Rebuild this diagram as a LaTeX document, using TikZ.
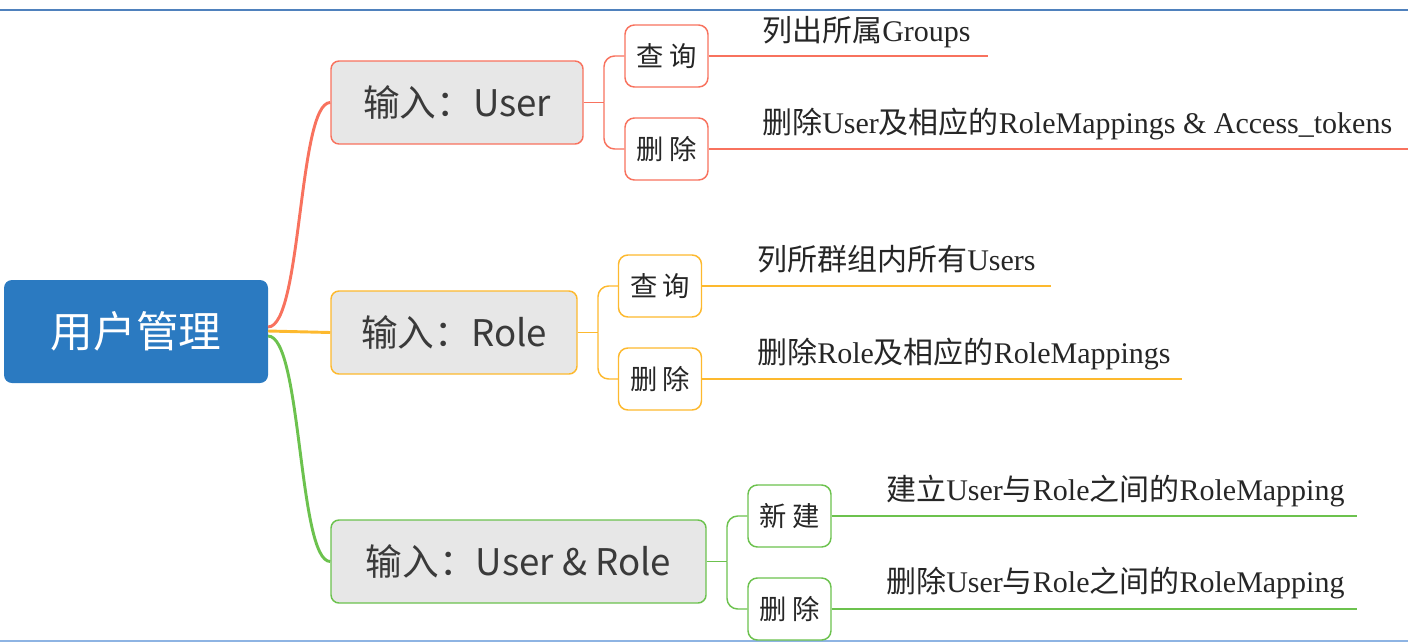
\documentclass[tikz,border=0pt]{standalone}
\usepackage{fontspec}
\setmainfont{Liberation Serif}
\newfontfamily\cjk{Noto Sans CJK SC}
\newcommand{\zhs}[1]{{\cjk #1}}
\newcommand{\twozh}[2]{#1\hspace{4pt}#2}
\definecolor{cred}{HTML}{F8725E}
\definecolor{corg}{HTML}{FDB92E}
\definecolor{cgrn}{HTML}{6CC24E}
\definecolor{cblue}{HTML}{2B7AC1}
\definecolor{cfill}{HTML}{E7E7E7}
\definecolor{ctxt}{HTML}{3A3A3A}
\definecolor{cline}{HTML}{4F81BD}
\definecolor{cline2}{HTML}{8EB4E3}
\tikzset{
  rootbox/.style={draw=none, fill=cblue, rounded corners=6pt, minimum width=198pt, minimum height=77.25pt, text=white, font=\cjk\fontsize{32}{36}\selectfont, inner sep=0pt},
  branchbox/.style={draw=#1, line width=1.1pt, fill=cfill, rounded corners=6pt, minimum height=62.25pt, text=ctxt, font=\cjk\fontsize{27.5}{30}\selectfont, inner sep=0pt},
  leafbox/.style={draw=#1, line width=1.1pt, fill=white, rounded corners=7pt, minimum width=62.25pt, minimum height=46.5pt, text=black!85, font=\cjk\fontsize{20.5}{22}\selectfont, inner sep=0pt},
  leaftext/.style={anchor=base west, inner sep=0pt, text=black!85, font=\fontsize{22.5}{24}\selectfont},
  rootlink/.style={draw=#1, line width=2.2pt},
  sublink/.style={draw=#1, line width=1.1pt},
}
\begin{document}
\begin{tikzpicture}[x=0.75pt, y=-0.75pt]
\useasboundingbox (0,0) rectangle (1408,643);
% frame lines
\coordinate (tl) at (0,10); \coordinate (tr) at (1408,10);
\coordinate (bl) at (0,641); \coordinate (br) at (1408,641);
\draw[cline, line width=1.5pt] (tl) -- (tr);
\draw[cline2, line width=1.5pt] (bl) -- (br);

% root
\node[rootbox] (root) at (136,331.5) {用户管理};

% branches
\node[branchbox=cred, minimum width=189pt] (b1) at (457,102.5) {输入：User};
\node[branchbox=corg, minimum width=184.5pt] (b2) at (454,332.5) {输入：Role};
\node[branchbox=cgrn, minimum width=281.25pt] (b3) at (518.5,561.5) {输入：User \& Role};

% root links
\coordinate (r1) at (268,327);
\coordinate (r2) at (268,331);
\coordinate (r3) at (268,336);
\draw[rootlink=cred] (r1) .. controls (302,327) and (298,102.5) .. (b1.west);
\draw[rootlink=corg] (r2) -- (b2.west);
\draw[rootlink=cgrn] (r3) .. controls (302,336) and (298,561.5) .. (b3.west);

% leaf boxes
\node[leafbox=cred] (q1) at (666.5,56) {\twozh{查}{询}};
\node[leafbox=cred] (d1) at (666.5,149) {\twozh{删}{除}};
\node[leafbox=corg] (q2) at (660,286) {\twozh{查}{询}};
\node[leafbox=corg] (d2) at (660,379) {\twozh{删}{除}};
\node[leafbox=cgrn] (n3) at (789.5,516) {\twozh{新}{建}};
\node[leafbox=cgrn] (d3) at (789.5,609) {\twozh{删}{除}};

% brackets
\coordinate (j1) at (604,102.5);
\coordinate (j2) at (598,332.5);
\coordinate (j3) at (727,561.5);
\draw[sublink=cred] (b1.east) -- (j1);
\draw[sublink=cred, rounded corners=8pt] (j1) |- (q1.west);
\draw[sublink=cred, rounded corners=8pt] (j1) |- (d1.west);
\draw[sublink=corg] (b2.east) -- (j2);
\draw[sublink=corg, rounded corners=8pt] (j2) |- (q2.west);
\draw[sublink=corg, rounded corners=8pt] (j2) |- (d2.west);
\draw[sublink=cgrn] (b3.east) -- (j3);
\draw[sublink=cgrn, rounded corners=8pt] (j3) |- (n3.west);
\draw[sublink=cgrn, rounded corners=8pt] (j3) |- (d3.west);

% leaf lines
\coordinate (e1) at (988,56);
\coordinate (e2) at (1408,149);
\coordinate (e3) at (1051,286);
\coordinate (e4) at (1182,379);
\coordinate (e5) at (1357,516);
\coordinate (e6) at (1357,609);
\draw[sublink=cred] (q1.east) -- (e1);
\draw[sublink=cred] (d1.east) -- (e2);
\draw[sublink=corg] (q2.east) -- (e3);
\draw[sublink=corg] (d2.east) -- (e4);
\draw[sublink=cgrn] (n3.east) -- (e5);
\draw[sublink=cgrn] (d3.east) -- (e6);

% leaf texts
\node[leaftext] (t1) at (762,41) {\zhs{列出所属}Groups};
\node[leaftext] (t2) at (762,133) {\zhs{删除}User\zhs{及相应的}RoleMappings \& Access\_tokens};
\node[leaftext] (t3) at (757,270) {\zhs{列所群组内所有}Users};
\node[leaftext] (t4) at (757,363) {\zhs{删除}Role\zhs{及相应的}RoleMappings};
\node[leaftext] (t5) at (886,500) {\zhs{建立}User\zhs{与}Role\zhs{之间的}RoleMapping};
\node[leaftext] (t6) at (886,592) {\zhs{删除}User\zhs{与}Role\zhs{之间的}RoleMapping};
\end{tikzpicture}
\end{document}
